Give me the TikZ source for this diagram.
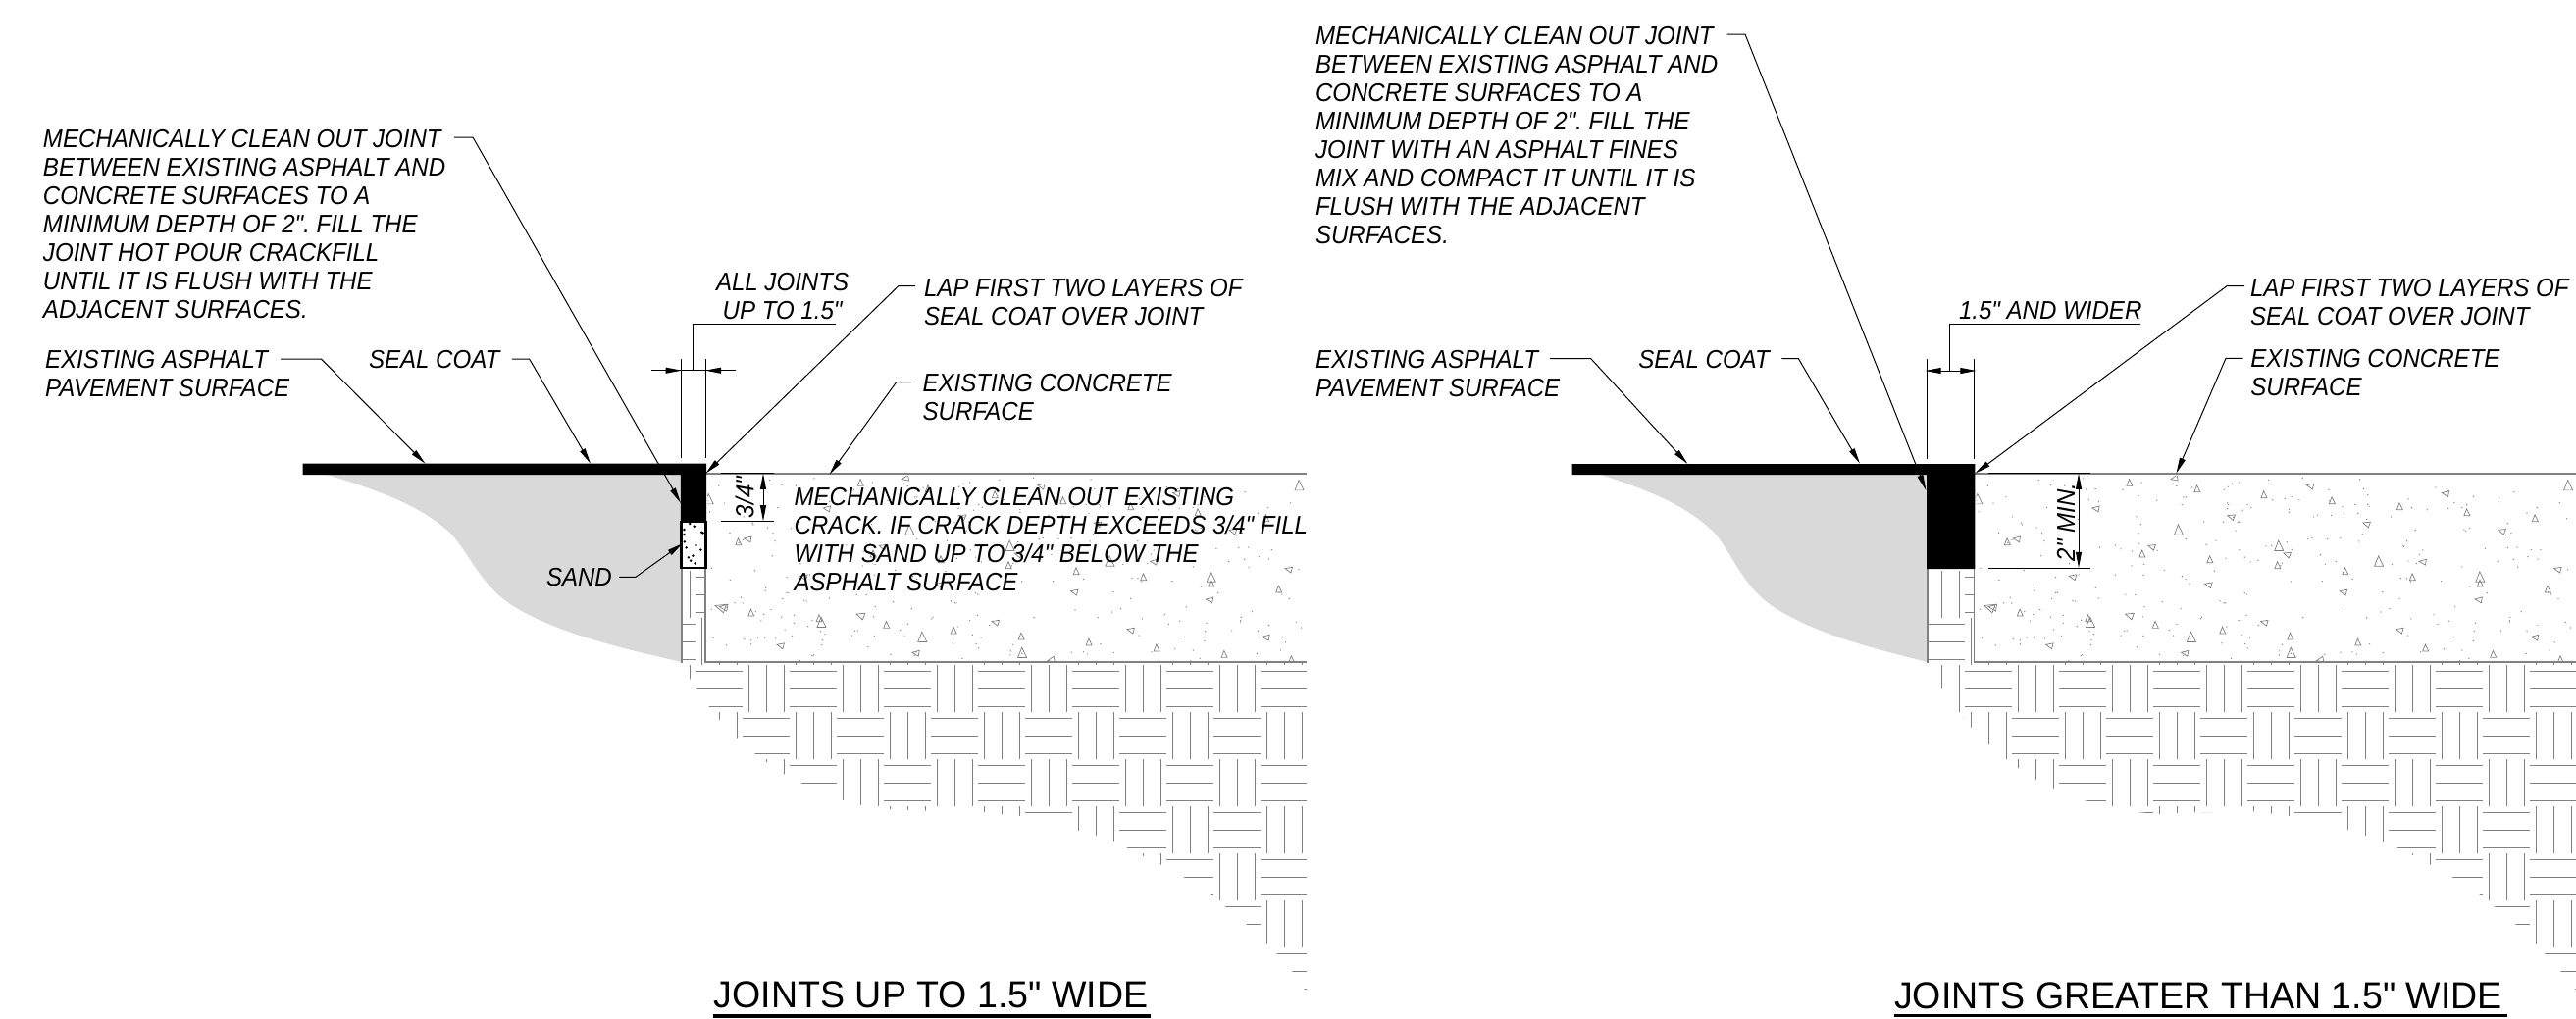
\documentclass[tikz,border=0pt]{standalone}
\usepackage{fontspec}
\setmainfont{Liberation Sans}
\newfontfamily\labf[FakeStretch=0.925]{Liberation Sans}
\newfontfamily\headf[FakeStretch=0.98]{Liberation Sans}
\frenchspacing
\usetikzlibrary{arrows.meta}
\definecolor{hatchgrey}{HTML}{808080}
\definecolor{soilgrey}{HTML}{D9D9D9}
\newcommand{\hatchcells}[3]{% x shift, first column, clip polygon
  \begin{scope}
    \clip #3;
    \foreach \i in {#2,...,12}{
      \foreach \j in {-2,...,6}{
        \pgfmathsetmacro{\cx}{709.4+48*\i+#1}
        \pgfmathsetmacro{\cy}{678.3+48*\j}
        \pgfmathtruncatemacro{\cellodd}{mod(\i+\j+20,2)}
        \ifnum\cellodd=0
          \foreach \dd in {6,24,42}{\draw[hatchline] (\cx,\cy+\dd) -- (\cx+48,\cy+\dd);}
        \else
          \foreach \dd in {6,24,42}{\draw[hatchline] (\cx+\dd,\cy) -- (\cx+\dd,\cy+48);}
        \fi
      }
    }
  \end{scope}
}
\newcommand{\concretefill}[2]{% x shift, seed
  \begin{scope}
    \clip (721+#1,485) rectangle (1331+#1,674);
    \pgfmathsetseed{#2}
    \foreach \k in {1,...,300}{
      \pgfmathsetmacro{\dx}{721+rnd*610+#1}
      \pgfmathsetmacro{\dy}{486+rnd*188}
      \fill[hatchgrey] (\dx,\dy) circle (0.7);
    }
    \foreach \a/\b/\s/\r in {
      586/577/6/0,735/596/6/0,882/614/6/0,984/586/6/75,1032/632/6/0,1282/609/6/80,1181/650/6/0,
      1329/668/6/0,1479/686/6/0,1552/586/9/0,685/563/6/100,252/628/9/0,512/655/6/80,810/680/6/70,
      694/722/9/0,1108/702/6/70,1406/724/6/70,317/758/6/0,338/748/6/80,635/772/6/70,614/795/6/0,
      915/771/9/0,933/795/6/70,763/812/6/0,912/830/6/0,1135/818/9/0,1232/818/6/80,1061/848/6/0,
      1209/866/6/0,1358/866/9/0,1358/885/6/0,1529/841/6/75,461/864/6/75,760/888/6/75,1057/910/6/75,
      1507/903/6/0,1355/934/6/80,278/957/9/70,285/957/7/80,345/975/6/0,495/992/6/0,500/1005/9/0,
      586/982/7/70,643/1012/6/0,883/1003/6/75,791/1029/6/0,1181/1027/6/75,722/1050/9/0,940/1047/6/0,
      1479/1049/6/80,410/1074/6/75,708/1097/6/80,942/1098/9/0,1089/1065/6/0,1238/1083/6/0,
      1387/1102/6/0,1006/1118/6/100,1535/1118/6/0}{
      \pgfmathsetmacro{\tx}{606+\a/2.16+#1}
      \pgfmathsetmacro{\ty}{300+\b/3}
      \draw[crete] [shift={(\tx,\ty)},rotate=\r]
        (-0.5*\s,0.5*\s) -- (0.5*\s,0.5*\s) -- (-0.05*\s,-0.65*\s) -- cycle;
    }
  \end{scope}
}
\tikzset{
  x=0.01cm,y=-0.01cm,
  hatchline/.style={draw=hatchgrey,line width=0.27pt},
  crete/.style={draw=hatchgrey,line width=0.2pt},
  edgeline/.style={draw=hatchgrey,line width=0.45pt},
  lead/.style={draw=black,line width=0.28pt},
  tip/.style={lead,-{Stealth[inset=0pt,length=4.6pt,width=1.7pt]}},
  bothtips/.style={lead,{Stealth[inset=0pt,length=4.6pt,width=1.7pt]}-{Stealth[inset=0pt,length=4.6pt,width=1.7pt]}},
  txt/.style={inner sep=0pt,outer sep=0pt,align=left,anchor=north west,text=black,yshift=-0.25pt,
    font=\labf\itshape\fontsize{7.4pt}{8.25pt}\selectfont},
  dimtxt/.style={inner sep=0pt,outer sep=0pt,anchor=base,rotate=90,text=black,
    font=\labf\itshape\fontsize{7.4pt}{8.25pt}\selectfont},
  heading/.style={inner sep=0pt,outer sep=0pt,anchor=base west,text=black,
    font=\headf\fontsize{10.9pt}{12pt}\selectfont},
  headrule/.style={draw=black,line width=1pt},
  asphalt/.style={fill=black,draw=none},
  soil/.style={fill=soilgrey,draw=none},
}
\begin{document}
\begin{tikzpicture}
\useasboundingbox (0,0) rectangle (2626,1038);
\fill[white] (0,0) rectangle (2626,1038);

% ---------- soil hatch
\hatchcells{0}{-1}{(695,579) -- (719,579) -- (719,675) -- (1332,675) -- (1332,1010) -- (1330,1009) -- (1317,990) -- (1301.5,972.3) -- (1291.7,962.7) -- (1270.7,942.3) -- (1249,924.3) -- (1233.7,912.3) -- (1206.9,894.3) -- (1183.7,881.7) -- (1148.8,864.3) -- (1135.4,858.3) -- (1117.6,851.7) -- (1099,846.7) -- (1039.5,832) -- (1003.7,828) -- (943.5,826.7) -- (907.8,825) -- (877.4,820.7) -- (859.6,815.7) -- (816,798) -- (799,789) -- (769,768) -- (751.5,752.7) -- (733.7,734) -- (722.5,720) -- (703.3,692) -- (701,676) -- (695,676) -- cycle}
\hatchcells{1293.6}{-2}{(1964.8,580) -- (2012.5,580) -- (2012.5,675) -- (2626,675) -- (2626,1010) -- (2624.7,1008) -- (2610.5,990.3) -- (2594.5,972.7) -- (2585,962.3) -- (2564.4,942.3) -- (2542.8,924.3) -- (2527.7,912.3) -- (2500,894.3) -- (2477.3,881.3) -- (2459.6,871.7) -- (2443.6,864.3) -- (2429.4,858.7) -- (2411.3,851.7) -- (2393.2,845.7) -- (2332.8,831.7) -- (2297,827.3) -- (2237.6,828.3) -- (2201.3,830) -- (2181.5,828.3) -- (2153.5,822.3) -- (2124.6,816) -- (2093.6,803.7) -- (2075.5,794.7) -- (2057.8,783.3) -- (2045.7,774.3) -- (2027.6,759.3) -- (2009.5,741.7) -- (2002.6,732.3) -- (1997.4,727) -- (1979.3,702) -- (1976,700) -- (1976,676) -- (1964.8,676) -- cycle}

% ---------- grey base
\fill[soil] (333.6,484) .. controls (375,497) and (425,512) .. (458.6,543) .. controls (480,565) and (490,600) .. (530,622) .. controls (575,647) and (630,660) .. (695,675) -- (695,484) -- cycle;
\fill[soil] (1632.5,484) .. controls (1670.6,497) and (1716.5,512) .. (1747.4,543) .. controls (1767,565) and (1776.3,600) .. (1813,622) .. controls (1854.5,647) and (1905,660) .. (1964.8,675) -- (1964.8,484) -- cycle;

% ---------- concrete
\concretefill{0}{7}
\concretefill{1293.6}{7}
\draw[edgeline] (719,579) -- (719,675) -- (1332,675);
\draw[edgeline] (719,483) -- (1332,483);
\draw[edgeline] (695,579) -- (695,676);
\draw[edgeline] (2012.5,580) -- (2012.5,675) -- (2626,675);
\draw[edgeline] (2012.5,483) -- (2626,483);
\draw[edgeline] (1964.8,580) -- (1964.8,676);

% ---------- left joint
\fill[asphalt] (308.6,472.7) -- (720,472.7) -- (720,532) -- (693.8,532) -- (693.8,484) -- (308.6,484) -- cycle;
\draw[fill=white,draw=black,line width=0.75pt] (694.6,532) rectangle (719.4,579);
\foreach \a/\b in {948/852,958/860,975/878,935/885,936/907,962/918,973/932,945/955,955/950,950/965,960/973,935/870,978/880,940/925}{
  \fill[black] ({280+\a/2.24},{250+\b/3}) circle (1.4);
}

% ---------- right joint
\fill[asphalt] (1602.6,473) -- (2013.4,473) -- (2013.4,580) -- (1964,580) -- (1964,484) -- (1602.6,484) -- cycle;

% ---------- left panel texts
\node[txt] (n1) at (44,131.5) {MECHANICALLY CLEAN OUT JOINT\\BETWEEN EXISTING ASPHALT AND\\CONCRETE SURFACES TO A\\MINIMUM DEPTH OF 2". FILL THE\\JOINT HOT POUR CRACKFILL\\UNTIL IT IS FLUSH WITH THE\\ADJACENT SURFACES.};
\node[txt] (n2) at (46,356) {EXISTING ASPHALT\\PAVEMENT SURFACE};
\node[txt] (n3) at (376,356) {SEAL COAT};
\node[txt,align=center] (n4) at (730,277.7) {ALL JOINTS\\UP TO 1.5"};
\node[txt] (n5) at (942,283) {LAP FIRST TWO LAYERS OF\\SEAL COAT OVER JOINT};
\node[txt] (n6) at (940.6,380.7) {EXISTING CONCRETE\\SURFACE};
\node[txt] (n7) at (809.6,496) {MECHANICALLY CLEAN OUT EXISTING\\CRACK. IF CRACK DEPTH EXCEEDS 3/4" FILL\\WITH SAND UP TO 3/4" BELOW THE\\ASPHALT SURFACE};
\node[txt] (n8) at (557,578.7) {SAND};
\node[dimtxt] (n9) at (768.4,507) {3/4"};
\node[heading] (n10) at (727.9,1027.7) {JOINTS UP TO 1.5" WIDE};

% ---------- left panel leaders
\draw[tip] (463,140) coordinate (a1) -- (482,140) coordinate (b1) -- (694,513) coordinate (c1);
\draw[tip] (286,366) coordinate (a2) -- (327.4,366) coordinate (b2) -- (433.5,472.7) coordinate (c2);
\draw[tip] (522,366) coordinate (a3) -- (539.6,366) coordinate (b3) -- (602,472.7) coordinate (c3);
\draw[tip] (933,291.7) coordinate (a5) -- (915.8,291.7) coordinate (b5) -- (719.4,482.7) coordinate (c5);
\draw[tip] (929.7,389.7) coordinate (a6) -- (913.7,389.7) coordinate (b6) -- (845.6,483.7) coordinate (c6);
\draw[tip] (631,588.3) coordinate (a8) -- (648,588.3) coordinate (b8) -- (696,554) coordinate (c8);
% width dimension
\coordinate (e1t) at (694.7,366); \coordinate (e1b) at (694.7,467);
\coordinate (e2t) at (719,366);   \coordinate (e2b) at (719,467);
\draw[lead] (e1t) -- (e1b);
\draw[lead] (e2t) -- (e2b);
\draw[lead] (851.7,330.3) coordinate (u1) -- (706.4,330.3) coordinate (u2) -- (706.4,377.7) coordinate (u3);
\draw[lead] (663.5,377.7) coordinate (d1) -- (750,377.7) coordinate (d2);
\draw[tip] (678,377.7) -- (694.7,377.7);
\draw[tip] (735.5,377.7) -- (719,377.7);
% 3/4 dimension
\draw[lead] (734.6,482.7) coordinate (f1) -- (789,482.7) coordinate (f2);
\draw[lead] (734.6,531.3) coordinate (f3) -- (789,531.3) coordinate (f4);
\draw[bothtips] (778,482.7) -- (778,531.3);
\draw[headrule] (727,1036) coordinate (h1) -- (1172.5,1036) coordinate (h2);

% ---------- right panel texts
\node[txt] (m1) at (1341,26) {MECHANICALLY CLEAN OUT JOINT\\BETWEEN EXISTING ASPHALT AND\\CONCRETE SURFACES TO A\\MINIMUM DEPTH OF 2". FILL THE\\JOINT WITH AN ASPHALT FINES\\MIX AND COMPACT IT UNTIL IT IS\\FLUSH WITH THE ADJACENT\\SURFACES.};
\node[txt] (m2) at (1341,356) {EXISTING ASPHALT\\PAVEMENT SURFACE};
\node[txt] (m3) at (1670.4,356) {SEAL COAT};
\node[txt] (m4) at (1997,307) {1.5" AND WIDER};
\node[txt] (m5) at (2294,283) {LAP FIRST TWO LAYERS OF\\SEAL COAT OVER JOINT};
\node[txt] (m6) at (2294.4,355.3) {EXISTING CONCRETE\\SURFACE};
\node[dimtxt] (m9) at (2115,532.3) {2" MIN.};
\node[heading] (m10) at (1931,1028) {JOINTS GREATER THAN 1.5" WIDE};

% ---------- right panel leaders
\draw[tip] (1760.6,35) coordinate (p1) -- (1779,35) coordinate (q1) -- (1963.4,500) coordinate (r1);
\draw[tip] (1580,365.7) coordinate (p2) -- (1621.8,365.7) coordinate (q2) -- (1720.4,473) coordinate (r2);
\draw[tip] (1816.4,365.7) coordinate (p3) -- (1833.4,365.7) coordinate (q3) -- (1896,472.7) coordinate (r3);
\draw[tip] (2288,291.7) coordinate (p5) -- (2270,291.7) coordinate (q5) -- (2013.4,482.7) coordinate (r5);
\draw[tip] (2286.6,365.3) coordinate (p6) -- (2269,365.3) coordinate (q6) -- (2218.5,482.7) coordinate (r6);
\draw[lead] (1964.4,366) coordinate (g1) -- (1964.4,467.7) coordinate (g2);
\draw[lead] (2012.5,366) coordinate (g3) -- (2012.5,467.7) coordinate (g4);
\draw[lead] (2181.5,330.3) coordinate (v1) -- (1987.5,330.3) coordinate (v2) -- (1987.5,378) coordinate (v3);
\draw[bothtips] (1962.5,378) coordinate (w1) -- (2014.5,378) coordinate (w2);
\draw[lead] (2027.3,482.7) coordinate (k1) -- (2130.6,482.7) coordinate (k2);
\draw[lead] (2027.3,579) coordinate (k3) -- (2130.6,579) coordinate (k4);
\draw[bothtips] (2119,482.7) -- (2119,579);
\draw[headrule] (1931,1035.7) coordinate (j1) -- (2555.6,1035.7) coordinate (j2);
\end{tikzpicture}
\end{document}
